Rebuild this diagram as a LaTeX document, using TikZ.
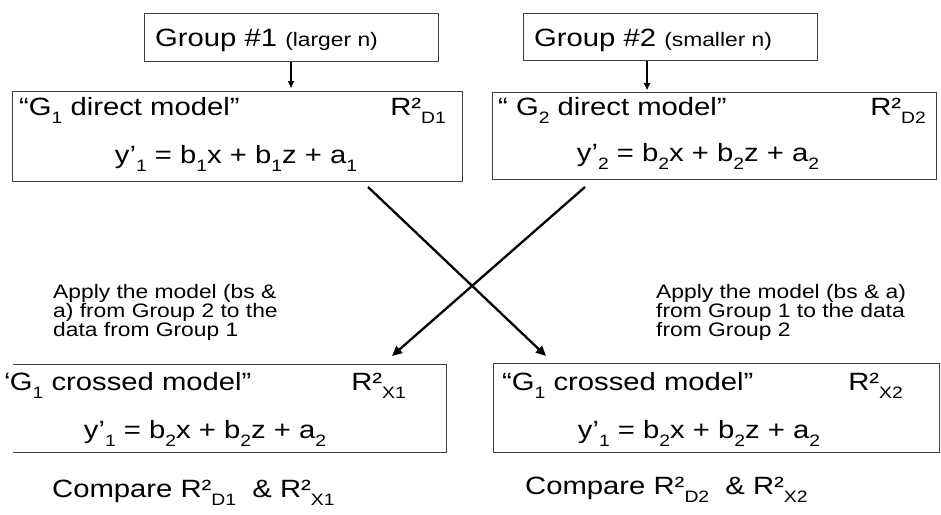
\documentclass[tikz,border=0pt]{standalone}
\usepackage{fontspec}
\setmainfont{Liberation Sans}[FakeStretch=1.17]
\usetikzlibrary{arrows.meta}
\newcommand\lo[1]{\raisebox{-0.32em}{\fontsize{16.5}{16.5}\selectfont #1}}
\begin{document}
\begin{tikzpicture}[x=1pt,y=-1pt,
  box/.style={draw=black!75, line width=0.9pt, inner sep=0pt, anchor=north west},
  big/.style={font=\fontsize{25}{25}\selectfont, inner sep=0pt},
  note/.style={font=\fontsize{19.5}{14.6}\selectfont, inner sep=0pt, align=left, anchor=north west},
  arr/.style={-{Triangle[length=10pt,width=9pt]}, line width=2.3pt},
  sarr/.style={-{Triangle[length=7pt,width=6pt]}, line width=1.7pt}]
\useasboundingbox (0,0) rectangle (941,514);
% top group boxes
\node[box, minimum width=294pt, minimum height=48pt] (g1) at (144,13) {};
\node[box, minimum width=294pt, minimum height=47pt] (g2) at (523,13) {};
\node[big, anchor=base west] (g1t) at (155,46) {Group \#1 {\fontsize{19.5}{19.5}\selectfont(larger n)}};
\node[big, anchor=base west] (g2t) at (534,46) {Group \#2 {\fontsize{19.5}{19.5}\selectfont(smaller n)}};
% direct model boxes
\node[box, minimum width=450pt, minimum height=90pt] (d1) at (12,91) {};
\node[box, minimum width=444pt, minimum height=87pt] (d2) at (492,92) {};
\node[big, anchor=base west] (d1a) at (19,115) {“G\lo{1} direct model”};
\node[big, anchor=base east] (d1r) at (446,115) {R²\lo{D1}};
\node[big, anchor=base] (d1b) at (236,163) {y’\lo{1} = b\lo{1}x + b\lo{1}z + a\lo{1}};
\node[big, anchor=base west] (d2a) at (498,115) {“ G\lo{2} direct model”};
\node[big, anchor=base east] (d2r) at (926,115) {R²\lo{D2}};
\node[big, anchor=base] (d2b) at (698,161) {y’\lo{2} = b\lo{2}x + b\lo{2}z + a\lo{2}};
% arrows from group boxes
\coordinate (a1s) at (291,62);
\coordinate (a1e) at (291,88);
\coordinate (a2s) at (647,61);
\coordinate (a2e) at (647,90);
\draw[sarr] (a1s) -- (a1e);
\draw[sarr] (a2s) -- (a2e);
% crossed boxes
\node[inner sep=0pt, anchor=north west, minimum width=433pt, minimum height=88pt] (x1) at (13,364) {};
\draw[draw=black!75, line width=0.9pt] (x1.north west) -- (x1.north east) -- (x1.south east) -- (x1.south west);
\node[box, minimum width=446pt, minimum height=89pt] (x2) at (493,363) {};
\begin{scope}
\clip (5,364) rectangle (446,452);
\node[big, anchor=base west] (x1a) at (0,390) {“G\lo{1} crossed model”};
\end{scope}
\node[big, anchor=base east] (x1r) at (406,390) {R²\lo{X1}};
\node[big, anchor=base] (x1b) at (205,438) {y’\lo{1} = b\lo{2}x + b\lo{2}z + a\lo{2}};
\node[big, anchor=base west] (x2a) at (502,390) {“G\lo{1} crossed model”};
\node[big, anchor=base east] (x2r) at (903,390) {R²\lo{X2}};
\node[big, anchor=base] (x2b) at (699,438) {y’\lo{1} = b\lo{2}x + b\lo{2}z + a\lo{2}};
% crossing arrows
\coordinate (c1s) at (368,187);
\coordinate (c1e) at (546,356);
\coordinate (c2s) at (585,187);
\coordinate (c2e) at (392,356);
\draw[arr] (c1s) -- (c1e);
\draw[arr] (c2s) -- (c2e);
% notes
\node[note] (n1) at (53,284) {Apply the model (bs \&\\a) from Group 2 to the\\data from Group 1};
\node[note] (n2) at (656,284) {Apply the model (bs \& a)\\from Group 1 to the data\\from Group 2};
% compare
\node[big, anchor=base west] (cmp1) at (52,497) {Compare R²\lo{D1}\ \ \& R²\lo{X1}};
\node[big, anchor=base west] (cmp2) at (525,494) {Compare R²\lo{D2}\ \ \& R²\lo{X2}};
\end{tikzpicture}
\end{document}
